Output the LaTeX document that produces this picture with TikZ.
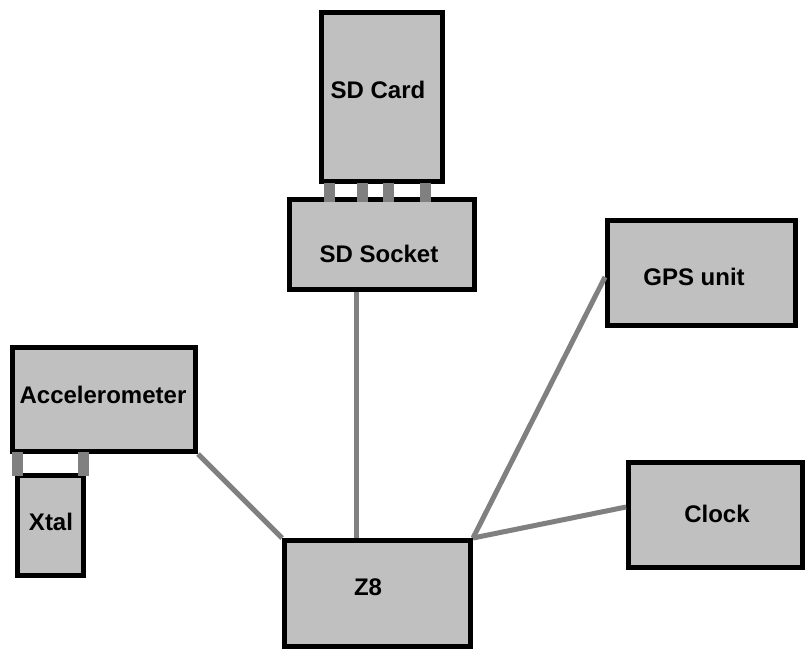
\documentclass[tikz,border=0pt]{standalone}
\usepackage{fontspec}
\setmainfont{Liberation Sans}
\usepackage{tikz}
\definecolor{boxgray}{HTML}{C0C0C0}
\definecolor{wiregray}{HTML}{808080}
\tikzset{
  part/.style={draw=black, fill=boxgray, line width=5pt, inner sep=0pt},
  partlabel/.style={font=\fontsize{24}{28}\selectfont\bfseries},
  wire/.style={draw=wiregray, line width=5pt},
  pin/.style={draw=wiregray, line width=11pt}
}

\begin{document}
\begin{tikzpicture}[x=1pt, y=-1pt]
\useasboundingbox (0,0) rectangle (805,649);
\node[part, minimum width=121pt, minimum height=169pt] (card) at (382,97) {};
\node[part, minimum width=185pt, minimum height=90pt] (socket) at (382,244.5) {};
\node[part, minimum width=183pt, minimum height=104pt] (accel) at (104,399.5) {};
\node[part, minimum width=66pt, minimum height=100pt] (xtal) at (50.5,525.5) {};
\node[part, minimum width=188pt, minimum height=105pt] (gps) at (701.5,273) {};
\node[part, minimum width=186pt, minimum height=106pt] (z8) at (377.5,593.5) {};
\node[part, minimum width=174pt, minimum height=105pt] (clock) at (715.5,515) {};
% pins between the stacked parts
\foreach \x in {329,362,388,425}
  \draw[pin] ([yshift=1pt]card.south -| \x,0) -- ([yshift=-5pt]socket.north -| \x,0);
\foreach \x in {17,83}
  \draw[pin] ([yshift=2pt]accel.south -| \x,0) -- ([yshift=-3pt]xtal.north -| \x,0);
% labels
\node[partlabel] (cardtxt) at (378,90) {SD Card};
\node[partlabel] (sockettxt) at (379,254) {SD Socket};
\node[partlabel] (gpstxt) at (694,277) {GPS unit};
\node[partlabel] (acceltxt) at (103,395) {Accelerometer};
\node[partlabel] (xtaltxt) at (51,522) {Xtal};
\node[partlabel] (z8txt) at (368,587) {Z8};
\node[partlabel] (clocktxt) at (717,514) {Clock};
% wires to the Z8
\draw[wire] (accel.south east) -- (z8.north west);
\draw[wire] ([xshift=-26pt]socket.south) -- ([xshift=-21.5pt]z8.north);
\draw[wire] (z8.north east) -- ([yshift=-4pt]gps.west);
\draw[wire] (z8.north east) -- ([yshift=8pt]clock.west);
\end{tikzpicture}
\end{document}
